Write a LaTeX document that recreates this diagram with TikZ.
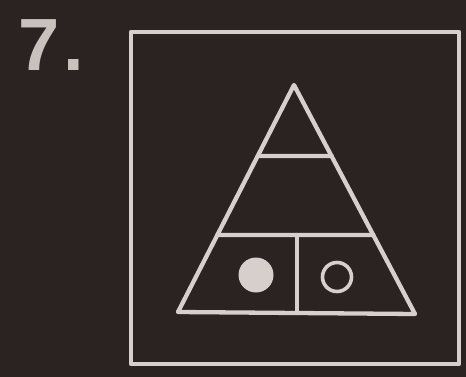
\documentclass[tikz,border=0pt]{standalone}
\usepackage{fontspec}
\setmainfont{Liberation Sans}
\usetikzlibrary{calc}
\definecolor{bg}{HTML}{2B2321}
\definecolor{ink}{HTML}{D6CFCB}
\definecolor{numgrey}{HTML}{C9C1BD}
\tikzset{
  figline/.style={draw=ink, line width=4.3pt, line cap=round, line join=round},
  thinline/.style={draw=ink, line width=3.6pt},
}
\begin{document}
\begin{tikzpicture}[x=1pt,y=-1pt]
\fill[bg] (0,0) rectangle (466,377);
\useasboundingbox (0,0) rectangle (466,377);
% number
\node[anchor=base west, inner sep=0pt, text=numgrey, font=\fontsize{74}{74}\selectfont\bfseries] (num) at (18,71) {7\kern4pt.};
% frame
\draw[figline] (131,32) rectangle (459,364);
\coordinate (frame) at (295,198);
% triangle
\coordinate (apex) at (294,85);
\coordinate (bl) at (178,312);
\coordinate (br) at (415,314);
\draw[figline] (apex) -- (bl) -- (br) -- cycle;
% horizontal lines
\coordinate (l1) at ($(bl)!{(312-156)/(312-85)}!(apex)$);
\coordinate (r1) at ($(br)!{(314-156)/(314-85)}!(apex)$);
\coordinate (l2) at ($(bl)!{(312-235)/(312-85)}!(apex)$);
\coordinate (r2) at ($(br)!{(314-235)/(314-85)}!(apex)$);
\draw[figline] (l1) -- (r1);
\draw[figline] (l2) -- (r2);
% vertical divider
\coordinate (vt) at (297,235);
\coordinate (vb) at (297,313);
\draw[figline] (vt) -- (vb);
% circles
\node[circle, fill=ink, minimum size=35pt, inner sep=0pt] (dotfull) at (256,275) {};
\node[circle, thinline, minimum size=29pt, inner sep=0pt] (dotopen) at (337,277) {};
\end{tikzpicture}
\end{document}
